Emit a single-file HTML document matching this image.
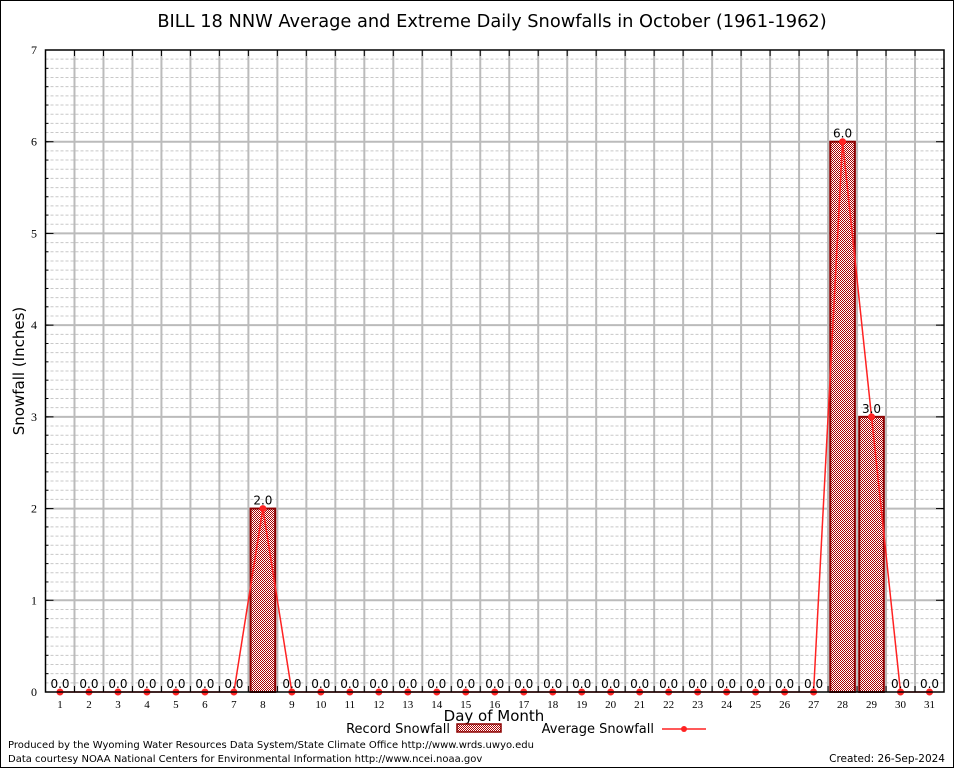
<!DOCTYPE html>
<html><head><meta charset="utf-8"><style>
body{margin:0;background:#fff;}
svg{display:block;font-family:"DejaVu Sans","Liberation Sans",sans-serif;}
</style></head><body>
<svg id="c" width="954" height="768" viewBox="0 0 954 768" xmlns="http://www.w3.org/2000/svg">
<defs>
<pattern id="hatch" width="2" height="2" patternUnits="userSpaceOnUse">
<rect width="2" height="2" fill="#fff"/><rect width="1" height="1" fill="#a00"/><rect x="1" y="1" width="1" height="1" fill="#a00"/>
</pattern>
</defs>
<rect x="0.5" y="0.5" width="953" height="767" fill="#fff" stroke="#000"/>
<text x="492" y="27" font-size="17.8" text-anchor="middle">BILL 18 NNW Average and Extreme Daily Snowfalls in October (1961-1962)</text>
<g id="grid"></g>
<g id="bars"></g>
<g id="line"></g>
<g id="labels"></g>
<g id="axes"></g>
<text transform="translate(24,371) rotate(-90)" font-size="15" text-anchor="middle">Snowfall (Inches)</text>
<text x="494" y="721" font-size="15" text-anchor="middle">Day of Month</text>
<g>
<text x="450" y="733" font-size="13" text-anchor="end">Record Snowfall</text>
<rect x="457" y="724" width="44" height="8" fill="url(#hatch)" stroke="#8b0000" stroke-width="1.5"/>
</g>
<g>
<text x="654" y="733" font-size="13" text-anchor="end">Average Snowfall</text>
<line x1="662" y1="729" x2="706" y2="729" stroke="#f22" stroke-width="1.5"/>
<circle cx="684" cy="729" r="3" fill="#f22"/>
</g>
<text x="8" y="748" font-size="10">Produced by the Wyoming Water Resources Data System/State Climate Office http://www.wrds.uwyo.edu</text>
<text x="8" y="762" font-size="10">Data courtesy NOAA National Centers for Environmental Information http://www.ncei.noaa.gov</text>
<text x="945" y="762" font-size="10.5" text-anchor="end">Created:  26-Sep-2024</text>
</svg>
<script>
const days = Array.from({length:31},(_,i)=>i+1);
const recordSnow = [0,0,0,0,0,0,0,2,0,0,0,0,0,0,0,0,0,0,0,0,0,0,0,0,0,0,0,6,3,0,0];
const avgSnow = [0,0,0,0,0,0,0,2,0,0,0,0,0,0,0,0,0,0,0,0,0,0,0,0,0,0,0,6,3,0,0];
const yTicks = [0,1,2,3,4,5,6,7];
const NS='http://www.w3.org/2000/svg';
const L=45.5,R=944,T=50,B=692,yMax=7;
const x=d=>L+(d-0.5)*(R-L)/31;
const y=v=>B-v*(B-T)/yMax;
function mk(p,tag,a){const e=document.createElementNS(NS,tag);for(const k in a)e.setAttribute(k,a[k]);document.getElementById(p).appendChild(e);return e;}
for(let v=0.1;v<yMax-0.01;v+=0.1){if(Math.abs(v-Math.round(v))<0.01)continue;
 const e=mk('grid','line',{x1:L,x2:R,y1:y(v),y2:y(v),stroke:'#c8c8c8','stroke-dasharray':'3,2','stroke-width':1});
 
 }
for(const v of yTicks){if(v===0||v===yMax)continue;
 const e=mk('grid','line',{x1:L,x2:R,y1:y(v),y2:y(v),stroke:'#bbb','stroke-width':2});
 
 }
for(let d=1;d<31;d++){
 const e=mk('grid','line',{x1:x(d+0.5),x2:x(d+0.5),y1:T,y2:B,stroke:'#bbb','stroke-width':2});
 
 }
const bw=(R-L)/31*0.85;
days.forEach((d,i)=>{if(recordSnow[i]<=0)return;
 const e=mk('bars','rect',{x:x(d)-bw/2,y:y(recordSnow[i]),width:bw,height:B-y(recordSnow[i]),fill:'url(#hatch)',stroke:'#8b0000','stroke-width':2});
 
 });
const pl=mk('line','polyline',{points:days.map((d,i)=>x(d)+','+y(avgSnow[i])).join(' '),fill:'none',stroke:'#f22','stroke-width':1.5});


days.forEach((d,i)=>{
 const c=mk('line','circle',{cx:x(d),cy:y(avgSnow[i]),r:3.5,fill:'#f22'});
 
 
 const t=mk('labels','text',{x:x(d),y:y(recordSnow[i])-4,'font-size':12,'text-anchor':'middle'});
 t.textContent=recordSnow[i].toFixed(1);
 
 });
const fr=mk('axes','rect',{x:L,y:T,width:R-L,height:B-T,fill:'none',stroke:'#000','stroke-width':1.5});


for(const v of yTicks){
 const t=mk('axes','text',{x:37,y:y(v)+4,'font-size':12,'text-anchor':'end','font-family':'Liberation Serif,serif'});
 t.textContent=v;
 
 
 mk('axes','line',{x1:L,x2:L+8,y1:y(v),y2:y(v),stroke:'#000'});
 mk('axes','line',{x1:R,x2:R-8,y1:y(v),y2:y(v),stroke:'#000'});}
for(let v=0.2;v<yMax;v+=0.2){mk('axes','line',{x1:L,x2:L+3,y1:y(v),y2:y(v),stroke:'#000'});mk('axes','line',{x1:R,x2:R-3,y1:y(v),y2:y(v),stroke:'#000'});}
days.forEach(d=>{
 const t=mk('axes','text',{x:x(d),y:B+16,'font-size':11,'text-anchor':'middle','font-family':'Liberation Serif,serif'});
 t.textContent=d;
 
 
 if(d<31){mk('axes','line',{x1:x(d+0.5),x2:x(d+0.5),y1:B,y2:B-6,stroke:'#000'});mk('axes','line',{x1:x(d+0.5),x2:x(d+0.5),y1:T,y2:T+6,stroke:'#000'});}});
</script>
</body></html>
